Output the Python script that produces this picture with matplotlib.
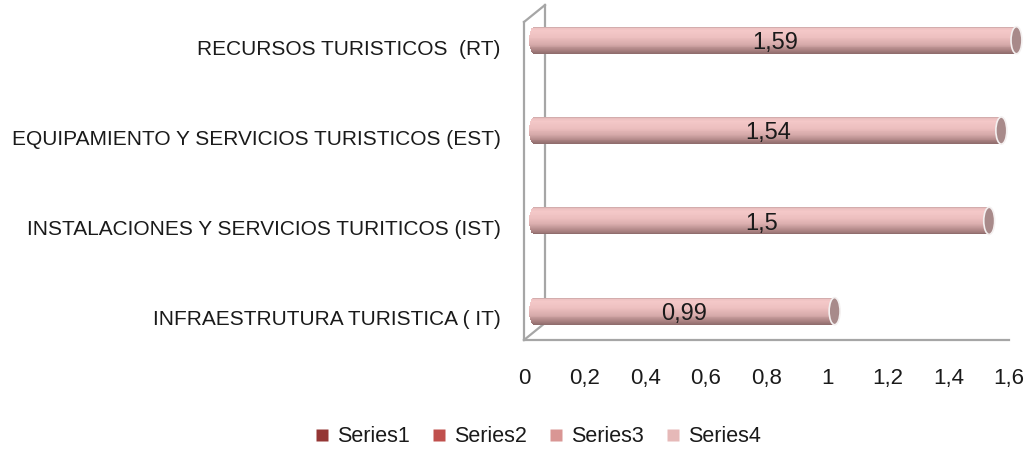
import matplotlib
matplotlib.use("Agg")
import matplotlib.pyplot as plt
import matplotlib.transforms as mtransforms
from matplotlib.patches import Ellipse
from matplotlib.lines import Line2D
from matplotlib.colors import LinearSegmentedColormap
import numpy as np

# Datos del gráfico
categorias = ["INFRAESTRUTURA TURISTICA ( IT)",
              "INSTALACIONES Y SERVICIOS TURITICOS (IST)",
              "EQUIPAMIENTO Y SERVICIOS TURISTICOS (EST)",
              "RECURSOS TURISTICOS  (RT)"]
series1 = [0, 0, 0, 0]
series2 = [0, 0, 0, 0]
series3 = [0, 0, 0, 0]
series4 = [0.99, 1.5, 1.54, 1.59]
nombres = ["Series1", "Series2", "Series3", "Series4"]
colores = ["#943634", "#C0504D", "#D99694", "#E6B9B8"]
ticks_x = [0, 0.2, 0.4, 0.6, 0.8, 1, 1.2, 1.4, 1.6]

plt.rcParams['font.family'] = ['Liberation Sans', 'DejaVu Sans']
texto = "#1A1A1A"

fig = plt.figure(figsize=(10.30, 4.51), dpi=100)
ax = fig.add_axes([524 / 1030, 111 / 451, 485 / 1030, 318 / 451])
ax.set_xlim(0, 1.6)
ax.set_ylim(-0.244, 3.277)
ax.set_autoscale_on(False)

# desplazamiento de profundidad (efecto 3D)
prof = mtransforms.ScaledTranslation(0.21, 0.17, fig.dpi_scale_trans)
medio = mtransforms.ScaledTranslation(0.105, 0.068, fig.dpi_scale_trans)
t_barras = ax.transData + medio
t_fondo = ax.transData + prof

# paredes
gris = "#A6A6A6"
y0, y1 = ax.get_ylim()
ax.plot([0, 0], [y0, y1], color=gris, lw=1.6, clip_on=False)
ax.plot([0, 1.6], [y0, y0], color=gris, lw=1.6, clip_on=False)
ax.plot([0, 0], [y0 + 0.02, y1], color=gris, lw=1.6, clip_on=False, transform=t_fondo)
# diagonales que unen el frente con el fondo
for yy in (y0, y1):
    p0 = ax.transData.transform((0, yy))
    p1 = t_fondo.transform((0, yy))
    ax.plot([p0[0], p1[0]], [p0[1], p1[1]], color=gris, lw=1.6, clip_on=False,
            transform=None)

# gradiente del cilindro
grad = LinearSegmentedColormap.from_list("cil", [
    (0.0, "#8C6A6A"), (0.12, "#A88080"), (0.35, "#D6AAAA"),
    (0.6, "#EDBFBF"), (0.85, "#F4C8C8"), (0.95, "#EBC0C0"), (1.0, "#C8A4A4")])

h = 0.30
n = 30
radio = 0.018
ypos = np.arange(len(categorias))
for yi, v in zip(ypos, series4):
    for k in range(n):
        # extremo izquierdo redondeado
        rel = (k + 0.5) / n * 2 - 1
        izq = -radio * np.sqrt(1 - rel ** 2)
        ax.barh(yi - h / 2 + k * h / n, v - izq, height=h / n * 1.05, left=izq,
                align='edge', color=grad((k + 0.5) / n), transform=t_barras,
                clip_on=False, zorder=3, linewidth=0)
    # tapa derecha
    ax.add_patch(Ellipse((v, yi), 0.036, h, facecolor="#A88A8A", edgecolor="#F4F0F0",
                         lw=1.2, transform=t_barras, clip_on=False, zorder=4))
    ax.text(v / 2, yi - 0.03, f"{v:g}".replace(".", ","), ha="center", va="center",
            fontsize=17, color=texto, transform=t_barras, zorder=5)

for s in ax.spines.values():
    s.set_visible(False)

ax.set_yticks(ypos)
ax.set_yticklabels(categorias, fontsize=15, color=texto)
ax.tick_params(axis='y', length=0, pad=17)
ax.set_xticks(ticks_x)
ax.set_xticklabels([f"{t:g}".replace(".", ",") for t in ticks_x], fontsize=16,
                   color=texto)
ax.tick_params(axis='x', length=0, pad=20)

handles = [Line2D([], [], marker='s', linestyle='none', markersize=8.5,
                  markerfacecolor=c, markeredgecolor='none') for c in colores]
fig.legend(handles, nombres, loc='center', bbox_to_anchor=(538 / 1030, 14 / 451),
           ncol=4, frameon=False, fontsize=15.5, handlelength=0.7, handletextpad=0.35,
           columnspacing=1.0, labelcolor=texto)

fig.savefig("out.png", dpi=100)
